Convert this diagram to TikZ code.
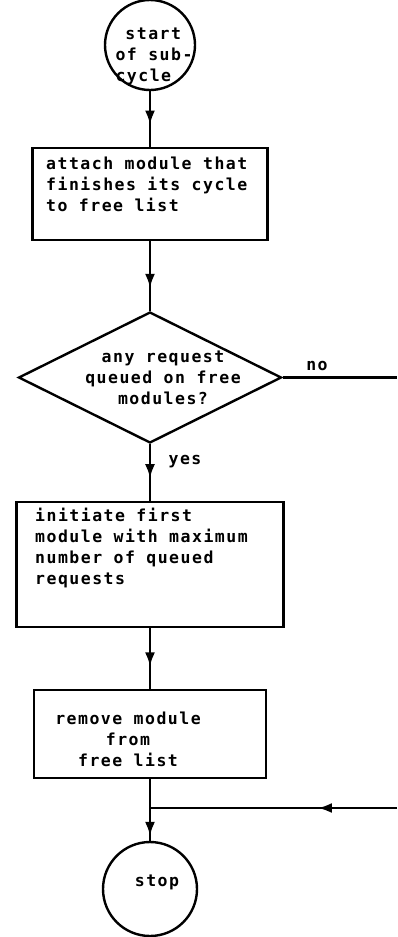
\documentclass[tikz,border=0pt]{standalone}
\usepackage{fontspec}
\usepackage{tikz}
\usetikzlibrary{shapes.geometric,arrows.meta,decorations.markings}
\newfontfamily\flowfont{DejaVu Sans Mono}[LetterSpace=9]
\tikzstyle{termbox} = [draw=black, line width=2.4pt, circle, inner sep=0pt]
\tikzstyle{procbox} = [draw=black, line width=2.4pt, rectangle, inner sep=0pt]
\tikzstyle{testbox} = [draw=black, line width=2.4pt, diamond, inner sep=0pt]
\tikzstyle{flowtext} = [font=\flowfont\bfseries\fontsize{16.5}{21}\selectfont, inner sep=0pt]
\tikzstyle{flowline} = [draw=black, line width=2.4pt]
\tikzset{midarrow/.style={flowline, postaction={decorate},
    decoration={markings, mark=at position #1 with {\arrow{Latex[length=14pt,width=10pt]}}}},
  midarrow/.default=0.6}

\begin{document}
\begin{tikzpicture}[x=1pt, y=-1pt]
    \useasboundingbox (0,0) rectangle (397,937);
    \node[termbox, minimum size=90pt] (start) at (150,45) {};
    \node[flowtext, align=left] (starttext) at (154,56) {\hphantom{o}start\\of sub-\\cycle};
    \node[procbox, minimum width=235pt, minimum height=92pt] (attach) at (150,194) {};
    \node[flowtext, align=left, anchor=north west] (attachtext) at (46,157)
        {attach module that\\finishes its cycle\\to free list};
    \node[testbox, minimum width=263pt, minimum height=131pt] (decide) at (150,377.5) {};
    \node[flowtext, align=center] (decidetext) at (163,378)
        {any request\\queued on free\\modules?};
    \node[procbox, minimum width=267pt, minimum height=125pt] (initiate) at (150,564.5) {};
    \node[flowtext, align=left, anchor=north west] (initiatetext) at (35,508)
        {initiate first\\module with maximum\\number of queued\\requests};
    \node[procbox, minimum width=232pt, minimum height=88pt] (remove) at (150,734) {};
    \node[flowtext, align=center] (removetext) at (128,739) {remove module\\from\\free list};
    \node[termbox, minimum size=94pt] (stop) at (150,889) {};
    \node[flowtext] (stoptext) at (157,882) {stop};
    \node[flowtext] (yes) at (185,462) {yes};
    \node[flowtext] (no) at (317,366) {no};
    \coordinate (noend) at (397,377.5);
    \coordinate (backin) at (397,808);
    \coordinate (join) at (150,808);

    \draw[midarrow] (start) -- (attach);
    \draw[midarrow=0.67] (attach) -- (decide);
    \draw[midarrow] (decide) -- (initiate);
    \draw[midarrow=0.63] (initiate) -- (remove);
    \draw[flowline] (remove) -- (join);
    \draw[midarrow=0.85] (join) -- (stop);
    \draw[flowline] (decide.east) -- (noend);
    \draw[midarrow=0.32] (backin) -- (join);
\end{tikzpicture}
\end{document}
